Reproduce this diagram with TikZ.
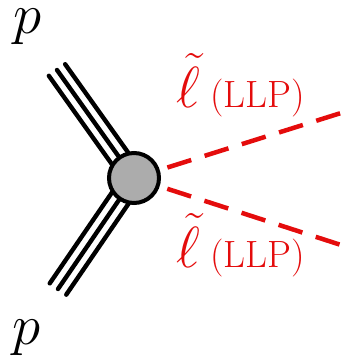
\RequirePackage{fix-cm}
\documentclass[tikz,border=0pt]{standalone}
\usetikzlibrary{calc}
\definecolor{llpred}{RGB}{228,12,12}
\definecolor{blobgray}{RGB}{172,172,172}
\begin{document}
\begin{tikzpicture}[x=1pt,y=-1pt,
  pline/.style={line width=4.4pt,line cap=round,black},
  sline/.style={line width=4.5pt,llpred,dash pattern=on 25pt off 14pt,dash phase=4pt},
  plabel/.style={inner sep=0pt,anchor=base,font=\fontsize{57}{60}\selectfont},
  slabel/.style={inner sep=0pt,anchor=base west,text=llpred}
]
\useasboundingbox (0,0) rectangle (341,359);
\coordinate (v) at (134,178);
\coordinate (ta) at (57,70);
\coordinate (ba) at (58,289);
\coordinate (r1) at (341,113);
\coordinate (r2) at (341,245);
% red dashed scalar lines
\draw[sline] (v) -- (r1);
\draw[sline] (v) -- (r2);
% proton lines
\draw[pline] (ta) -- (v);
\draw[pline] ($(ta)!10pt!90:(v)$) -- ($(v)!10pt!-90:(ta)$);
\draw[pline] ($(ta)!10pt!-90:(v)$) -- ($(v)!10pt!90:(ta)$);
\draw[pline] (ba) -- (v);
\draw[pline] ($(ba)!10pt!90:(v)$) -- ($(v)!10pt!-90:(ba)$);
\draw[pline] ($(ba)!10pt!-90:(v)$) -- ($(v)!10pt!90:(ba)$);
% blob
\node[circle,draw=black,line width=4pt,fill=blobgray,minimum size=50pt,inner sep=0pt] (blob) at (v) {};
% labels
\node[plabel] (p1) at (28,33) {$p$};
\node[plabel] (p2) at (27,344) {$p$};
\node[slabel] (l1) at (176,107) {{\fontsize{58}{60}\selectfont$\tilde{\ell}$}\kern10pt{\fontsize{38}{40}\selectfont(LLP)}};
\node[slabel] (l2) at (176,267) {{\fontsize{58}{60}\selectfont$\tilde{\ell}$}\kern10pt{\fontsize{38}{40}\selectfont(LLP)}};
\end{tikzpicture}
\end{document}
